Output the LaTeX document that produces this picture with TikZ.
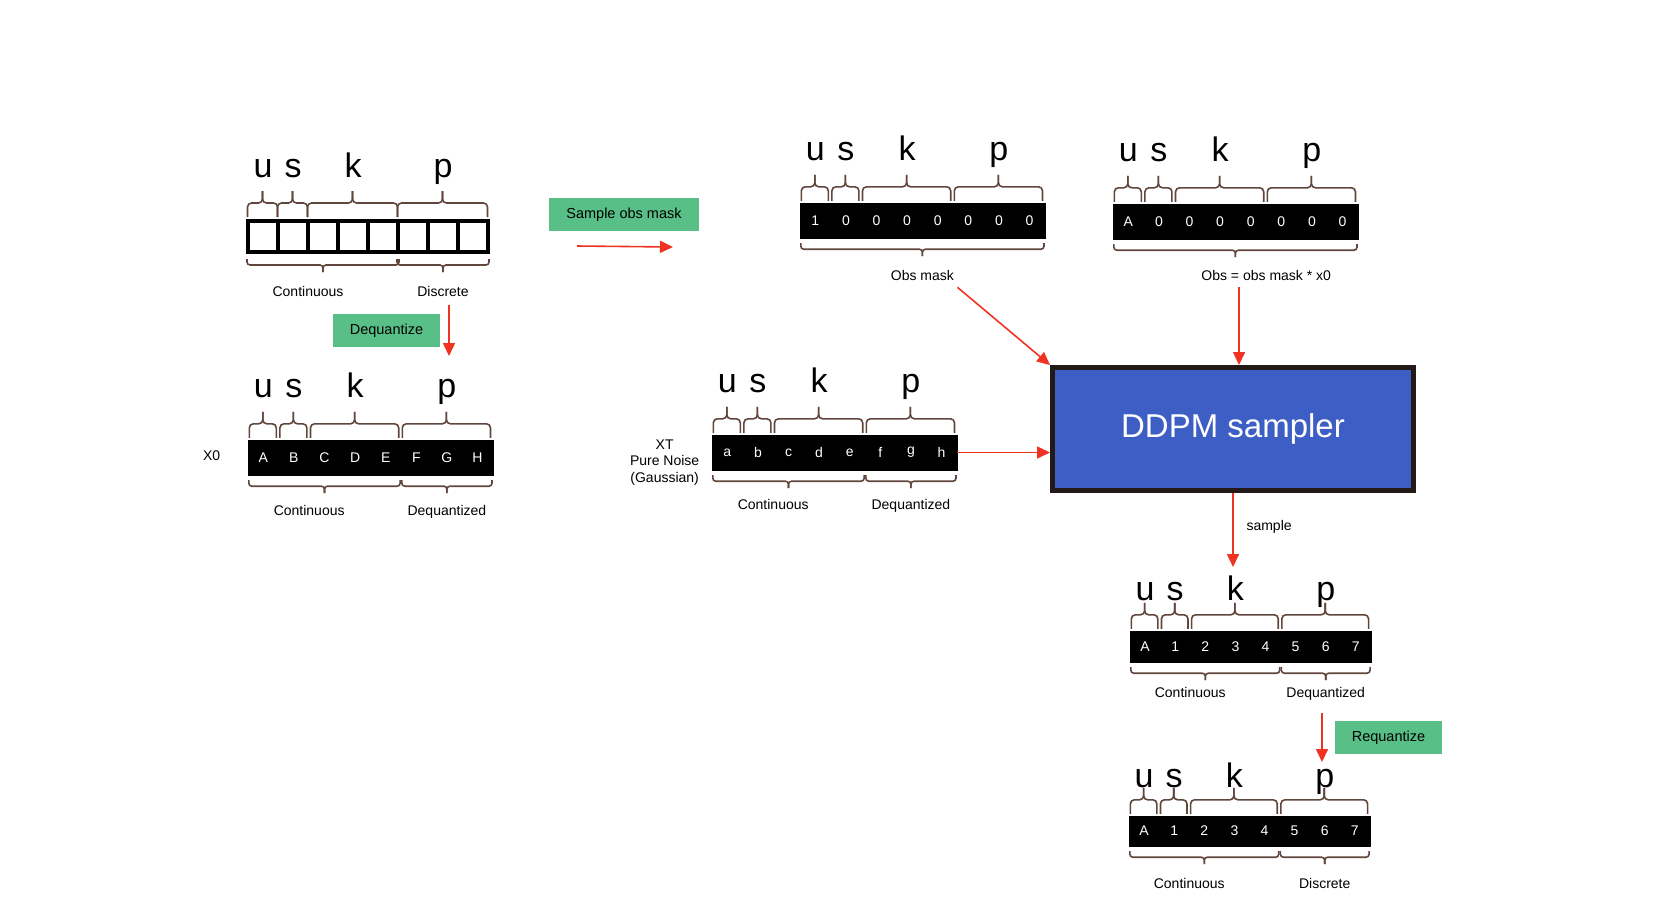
\documentclass[tikz,border=0pt]{standalone}
\usepackage{fontspec}
\setmainfont{Liberation Sans}
\usetikzlibrary{arrows.meta, calc, positioning}

\definecolor{brcbrown}{RGB}{96,70,60}
\definecolor{arrred}{RGB}{240,50,35}
\definecolor{boxgreen}{RGB}{88,191,134}
\definecolor{ddpmblue}{RGB}{61,94,196}
\definecolor{ddpmedge}{RGB}{35,25,22}

\tikzset{
  wcell/.style={draw=black, fill=white, line width=4pt, minimum width=30pt, minimum height=31pt, inner sep=0pt},
  bcell/.style={draw=black, fill=black, text=white, minimum width=30.6pt, minimum height=35pt, inner sep=0pt, font=\fontsize{14}{16}\selectfont},
  lbl/.style={anchor=base, inner sep=0pt, font=\fontsize{34}{40}\selectfont},
  txt/.style={font=\fontsize{14}{16.5}\selectfont, text depth=3pt},
  gbox/.style={fill=boxgreen, minimum width=107pt, minimum height=33pt, inner sep=0pt, font=\fontsize{14.5}{17}\selectfont},
  brc/.style={draw=brcbrown, line width=1.6pt, rounded corners=4pt},
  redarr/.style={draw=arrred, line width=1.6pt, -{Triangle[length=13pt,width=12pt]}},
}

% curly braces over / under a run of cells
\newcommand{\topbrc}[2]{%
  \coordinate (bl) at ([xshift=1.5pt,yshift=2pt]#1.north west);
  \coordinate (br) at ([xshift=-2.5pt,yshift=2pt]#2.north east);
  \coordinate (bm) at ($(bl)!.5!(br)+(0,-14)$);
  \draw[brc] (bl) |- (bm) -- ++(0,-12);
  \draw[brc] (br) |- (bm) -- ++(0,-12);
}
\newcommand{\botbrc}[2]{%
  \coordinate (bl) at ([xshift=1pt,yshift=-5pt]#1.south west);
  \coordinate (br) at ([xshift=-1pt,yshift=-5pt]#2.south east);
  \coordinate (bm) at ($(bl)!.5!(br)+(0,6)$);
  \draw[brc, rounded corners=3pt] (bl) |- (bm) -- ++(0,7);
  \draw[brc, rounded corners=3pt] (br) |- (bm) -- ++(0,7);
}

\begin{document}
\begin{tikzpicture}[x=1pt, y=-1pt]
  \useasboundingbox (0,0) rectangle (1673,919);

  % empty discrete vector
  \foreach \i in {1,...,8}
    \node[wcell] (s0\i) at (233+30*\i, 236.5) {};
  \foreach \l/\c in {u/1,s/2,k/4,p/7}
    \node[lbl] (s0\l) at ([yshift=42pt]s0\c.north) {\l};
  \node[txt] (s0cl) at ($(s02.south)!.5!(s03.south)+(0,39)$) {Continuous};
  \node[txt] (s0dl) at ([yshift=-39pt]s07.south) {Discrete};

  \node[gbox] (dqbox) at (386.5, 330.5) {Dequantize};
  \coordinate (dqa) at (449, 305);
  \coordinate (dqb) at (449, 356);
  \draw[redarr] (dqa) -- (dqb);

  % X0
  \foreach \t [count=\i] in {A,B,C,D,E,F,G,H}
    \node[bcell] (x0\i) at (232.7+30.6*\i, 457.5) {\t};
  \foreach \l/\c in {u/1,s/2,k/4,p/7}
    \node[lbl] (x0\l) at ([yshift=42pt]x0\c.north) {\l};
  \node[txt] (x0cl) at ($(x02.south)!.5!(x03.south)+(0,37)$) {Continuous};
  \node[txt] (x0dl) at ([yshift=-37pt]x07.south) {Dequantized};
  \node[txt, left=24pt of x01] (x0name) {X0};

  % obs mask
  \node[gbox, minimum width=150pt] (smbox) at (624, 214.5) {Sample obs mask};
  \coordinate (sma) at (577, 246);
  \coordinate (smb) at (673, 247);
  \draw[redarr] (sma) -- (smb);

  \foreach \t [count=\i] in {1,0,0,0,0,0,0,0}
    \node[bcell] (mk\i) at (784.7+30.6*\i, 220.5) {\t};
  \foreach \l/\c in {u/1,s/2,k/4,p/7}
    \node[lbl] (mk\l) at ([yshift=42pt]mk\c.north) {\l};
  \node[txt] (mkl) at ($(mk4.south)!.5!(mk5.south)+(0,39)$) {Obs mask};

  % obs
  \foreach \t [count=\i] in {A,0,0,0,0,0,0,0}
    \node[bcell] (ob\i) at (1097.7+30.6*\i, 221.5) {\t};
  \foreach \l/\c in {u/1,s/2,k/4,p/7}
    \node[lbl] (ob\l) at ([yshift=42pt]ob\c.north) {\l};
  \node[txt] (obl) at ([yshift=-38pt]ob5.south east) {Obs = obs mask * x0};

  % XT
  \foreach \t [count=\i] in {a,b,c,d,e,f,g,h}
    \node[bcell] (xt\i) at (696.7+30.6*\i, 452.5) {\t};
  \foreach \l/\c in {u/1,s/2,k/4,p/7}
    \node[lbl] (xt\l) at ([yshift=42pt]xt\c.north) {\l};
  \node[txt] (xtcl) at ($(xt2.south)!.5!(xt3.south)+(0,36)$) {Continuous};
  \node[txt] (xtdl) at ([yshift=-36pt]xt7.south) {Dequantized};
  \node[txt, align=center, left=9pt of xt1, yshift=-10pt] (xtname) {XT\\Pure Noise\\(Gaussian)};

  % sampler
  \node[draw=ddpmedge, fill=ddpmblue, line width=5pt, text=white, minimum width=361pt, minimum height=123pt,
        font=\fontsize{33}{40}\selectfont] (ddpm) at (1233, 429) {DDPM sampler};
  \coordinate (obin) at ([xshift=6pt]ddpm.north);
  \draw[redarr] (mkl.south east) -- (ddpm.north west);
  \draw[redarr] (obl.south -| obin) -- (obin);
  \draw[redarr] (xt8.east) -- (xt8.east -| ddpm.west);
  \coordinate (spb) at (1235, 567);
  \draw[redarr] (ddpm.south) -- (ddpm.south |- spb);
  \node[txt, anchor=west] (spl) at (1243, 527) {sample};

  % sampled
  \foreach \t [count=\i] in {A,1,2,3,4,5,6,7}
    \node[bcell, minimum width=30.1pt, minimum height=31pt] (sm\i) at (1115+30.1*\i, 646.5) {\t};
  \foreach \l/\c in {u/1,s/2,k/4,p/7}
    \node[lbl] (sm\l) at ([yshift=30pt]sm\c.north) {\l};
  \node[txt] (smcl) at ($(sm2.south)!.5!(sm3.south)+(0,32)$) {Continuous};
  \node[txt] (smdl) at ([yshift=-32pt]sm7.south) {Dequantized};

  \node[gbox] (rqbox) at (1388.5, 737.5) {Requantize};
  \coordinate (rqa) at (1322, 713);
  \coordinate (rqb) at (1322, 762);
  \draw[redarr] (rqa) -- (rqb);

  % requantized
  \foreach \t [count=\i] in {A,1,2,3,4,5,6,7}
    \node[bcell, minimum width=30.1pt, minimum height=30pt] (rq\i) at (1114+30.1*\i, 831) {\t};
  \foreach \l/\c in {u/1,s/2,k/4,p/7}
    \node[lbl] (rq\l) at ([yshift=28pt]rq\c.north) {\l};
  \node[txt] (rqcl) at ($(rq2.south)!.5!(rq3.south)+(0,39)$) {Continuous};
  \node[txt] (rqdl) at ([yshift=-39pt]rq7.south) {Discrete};

  % braces
  \foreach \n in {s0,x0,mk,ob,xt,sm,rq}{
    \foreach \a/\b in {1/1,2/2,3/5,6/8}{\topbrc{\n\a}{\n\b}}
  }
  \foreach \n in {s0,x0,xt,sm,rq}{
    \botbrc{\n1}{\n5}
    \botbrc{\n6}{\n8}
  }
  \botbrc{mk1}{mk8}
  \botbrc{ob1}{ob8}
\end{tikzpicture}
\end{document}
